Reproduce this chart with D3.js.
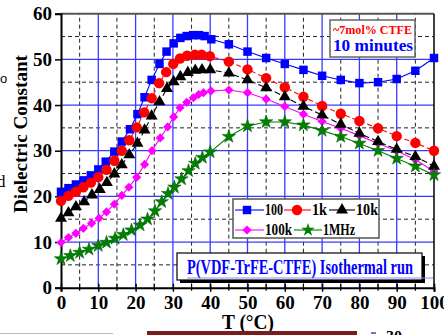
<!DOCTYPE html>
<html><head><meta charset="utf-8">
<script src="https://cdn.jsdelivr.net/npm/d3@7"></script>
<style>body{margin:0;background:#fff}svg{display:block}text{font-family:"Liberation Serif","Times New Roman",serif;font-weight:bold}</style>
</head><body>
<svg id="c" width="444" height="335"></svg>
<script>
const xTicks = [0,10,20,30,40,50,60,70,80,90,100];
const yTicks = [0,10,20,30,40,50,60];
const xMinor = [5,15,25,35,45,55,65,75,85,95];
const yMinor = [5,15,25,35,45,55];

// 100 Hz
const t100 = [0,2,4,6,8,10,12,14.3,16.3,18.5,20.5,22.4,24.3,26.4,28.3,30.2,32,33.7,35.4,37,38.5,40.3,45,50,55,60,65,70,75,80,85,90,95,100];
const v100 = [21.0,21.8,22.6,23.5,24.6,25.9,27.6,29.8,32.0,34.7,38.0,41.7,45.5,49.0,51.7,53.5,54.7,55.1,55.3,55.3,55.1,54.4,53.3,51.7,50.3,49.0,47.7,46.4,45.5,44.8,45.0,45.7,47.5,50.3];
// 1 kHz
const t1k = [0,2,4,6,8,10,12.2,14.3,16.3,18.3,20.3,22.3,24.3,26.3,28.2,30.1,31.9,33.8,35.9,37.7,39.9,45,50,55,60,65,70,75,80,85,90,95,100];
const v1k = [19.0,20.1,21.0,22.0,23.0,24.2,25.8,27.8,30.0,32.3,35.1,38.4,41.5,44.8,47.2,49.0,50.2,50.8,51.0,51.0,50.7,49.5,47.8,45.9,43.9,41.8,39.8,38.1,36.5,34.9,33.2,31.7,30.0];
// 10 kHz
const t10k = [0,2,4,6.2,8.3,10.4,12.3,14.3,16.3,18.3,20.5,22.4,24.3,26.4,28.4,30.2,32,34,36,37.8,40,45,50,55,60,65,70,75,80,85,90,95,100];
const v10k = [15.2,16.4,17.7,18.8,20.3,21.5,23.0,24.9,26.9,29.1,31.6,34.5,37.6,40.7,43.6,45.1,46.2,47.1,47.6,47.7,47.7,47.0,45.5,43.8,41.8,39.7,37.8,35.8,33.8,32.0,30.3,28.7,26.6];
// 100 kHz
const t100k = [0,2,4,6,8.2,10.2,12.2,14.3,16.3,18.2,20.3,22.4,24.4,26.6,28.6,30.2,31.9,33.7,35.5,36.9,38.2,40.2,45,50,55,60,65,70,75,80,85,90,95,100];
const v100k = [9.9,11.0,11.9,13.0,14.1,15.2,16.6,18.3,20.2,22.0,24.2,27.0,30.0,32.8,35.2,37.4,39.4,40.6,41.6,42.3,42.7,43.1,43.3,42.7,41.3,39.7,38.0,36.4,34.9,33.3,31.6,30.0,28.0,25.5];
// 1 MHz
const t1M = [0,2.5,5,7.5,10,12.2,14.5,16.7,18.9,21.2,23.2,25.2,27,28.7,30.4,32.3,34.2,36,37.9,40,45,50,55,60,65,70,75,80,85,90,95,100];
const v1M = [6.3,7.0,7.7,8.4,9.2,9.9,10.8,11.6,12.6,13.7,15.0,16.8,18.8,20.6,22.0,23.8,25.6,27.2,28.5,29.7,33.1,35.4,36.3,36.3,35.6,34.4,33.1,31.6,30.0,28.3,26.6,24.7];

const seriesNames = ["100","1k","10k","100k","1MHz"];

const svg = d3.select("#c");
svg.append("rect").attr("width",444).attr("height",335).attr("fill","#fff");

const x = d3.scaleLinear().domain([0,100]).range([61,434]);
const y = d3.scaleLinear().domain([0,60]).range([287.7,13.7]);

// grid
const g = svg.append("g");
g.selectAll(".gmx").data(yMinor).enter().append("line")
  .attr("x1",x(0)).attr("x2",x(100)).attr("y1",d=>y(d)).attr("y2",d=>y(d))
  .attr("stroke","#222").attr("stroke-width",1).attr("stroke-dasharray","4,3");
g.selectAll(".gmy").data(xMinor).enter().append("line")
  .attr("y1",y(0)).attr("y2",y(60)).attr("x1",d=>x(d)).attr("x2",d=>x(d))
  .attr("stroke","#222").attr("stroke-width",1).attr("stroke-dasharray","4,3");
g.selectAll(".gMy").data(yTicks.filter(d=>d>0&&d<60)).enter().append("line")
  .attr("x1",x(0)).attr("x2",x(100)).attr("y1",d=>y(d)).attr("y2",d=>y(d))
  .attr("stroke","#3a3aff").attr("stroke-width",1.3);
g.selectAll(".gMx").data(xTicks.filter(d=>d>0&&d<100)).enter().append("line")
  .attr("y1",y(0)).attr("y2",y(60)).attr("x1",d=>x(d)).attr("x2",d=>x(d))
  .attr("stroke","#3a3aff").attr("stroke-width",1.3);

// frame
svg.append("line").attr("x1",x(0)).attr("x2",x(100)).attr("y1",y(60)).attr("y2",y(60)).attr("stroke","#555").attr("stroke-width",2);
svg.append("line").attr("x1",x(100)).attr("x2",x(100)).attr("y1",y(60)).attr("y2",y(0)).attr("stroke","#000").attr("stroke-width",1.5);

// axes
const yAxis = d3.axisLeft(y).tickValues(yTicks).tickSize(6).tickPadding(3).tickFormat(d3.format("d"));
const ya = svg.append("g").attr("transform",`translate(${x(0)},0)`).call(yAxis);
ya.select(".domain").attr("stroke","#000").attr("stroke-width",2);
ya.selectAll(".tick line").attr("stroke","#000").attr("stroke-width",1.5);
ya.selectAll(".tick text").attr("font-size",19).attr("fill","#000").style("font-family","Liberation Serif").style("font-weight","bold");

const xAxis = d3.axisBottom(x).tickValues(xTicks).tickSize(4).tickPadding(4).tickFormat(d3.format("d"));
const xa = svg.append("g").attr("transform",`translate(0,${y(0)})`).call(xAxis);
xa.select(".domain").attr("stroke","#000").attr("stroke-width",2);
xa.selectAll(".tick line").attr("stroke","#000").attr("stroke-width",1.5).attr("y1",-4);
xa.selectAll(".tick text").attr("font-size",19).attr("fill","#000").style("font-family","Liberation Serif").style("font-weight","bold");
svg.append("g").selectAll("line").data(xMinor).enter().append("line")
  .attr("x1",d=>x(d)).attr("x2",d=>x(d)).attr("y1",y(0)-4).attr("y2",y(0)+3).attr("stroke","#000").attr("stroke-width",1.2);

// series
const sym = {
  square: d3.symbol().type(d3.symbolSquare).size(72),
  circle: d3.symbol().type(d3.symbolCircle).size(85),
  triangle: d3.symbol().type(d3.symbolTriangle).size(62),
  diamond: d3.symbol().type(d3.symbolSquare).size(42),
  star: d3.symbol().type(d3.symbolStar).size(55)
};
const series = [
  {t:t100, v:v100, color:"#0000ff", dash:null, shape:"square"},
  {t:t1k, v:v1k, color:"#ff0000", dash:"5,3", shape:"circle"},
  {t:t100k, v:v100k, color:"#ff00ff", dash:null, shape:"diamond"},
  {t:t10k, v:v10k, color:"#000000", dash:"6,3", shape:"triangle"},
  {t:t1M, v:v1M, color:"#008000", dash:null, shape:"star"}
];
const line = d3.line().x(d=>x(d[0])).y(d=>y(d[1]));
series.forEach(s=>{
  const pts = s.t.map((t,i)=>[t,s.v[i]]);
  const sg = svg.append("g");
  sg.append("path").attr("d",line(pts)).attr("fill","none").attr("stroke",s.color).attr("stroke-width",1.1)
    .attr("stroke-dasharray",s.dash);
  sg.selectAll("path.m").data(pts).enter().append("path").attr("class","m")
    .attr("d",sym[s.shape]())
    .attr("transform",d=>`translate(${x(d[0])},${y(d[1])})`+(s.shape==="diamond"?" rotate(45)":""))
    .attr("fill",s.color)
    .attr("stroke",s.shape==="star"?"#006400":"none").attr("stroke-width",0.6);
});

// legend
const lg = svg.append("g");
lg.append("rect").attr("x",233).attr("y",199).attr("width",146).attr("height",39).attr("fill","#fff").attr("stroke","#555").attr("stroke-width",1.5);
const legItems = [
  {name:seriesNames[0], s:series[0], lx:235, cx:247, tx:265, tw:18, ly:210},
  {name:seriesNames[1], s:series[1], lx:284, cx:297, tx:312, tw:15, ly:210},
  {name:seriesNames[2], s:series[3], lx:329, cx:342, tx:356, tw:22, ly:210},
  {name:seriesNames[3], s:series[2], lx:235, cx:247, tx:265, tw:27, ly:230},
  {name:seriesNames[4], s:series[4], lx:294, cx:308, tx:323, tw:32, ly:230}
];
legItems.forEach(it=>{
  lg.append("line").attr("x1",it.lx).attr("x2",it.tx-1).attr("y1",it.ly).attr("y2",it.ly)
    .attr("stroke",it.s.color).attr("stroke-width",1.1);
  lg.append("path").attr("d",sym[it.s.shape]())
    .attr("transform",`translate(${it.cx},${it.ly})`+(it.s.shape==="diamond"?" rotate(45)":""))
    .attr("fill",it.s.color);
  lg.append("text").attr("x",it.tx).attr("y",it.ly+5).attr("font-size",16)
    .attr("textLength",it.tw).attr("lengthAdjust","spacingAndGlyphs").attr("fill","#000").text(it.name);
});

// annotation box top right
svg.append("rect").attr("x",330).attr("y",20).attr("width",85).attr("height",37).attr("fill","#fff").attr("stroke","#666").attr("stroke-width",1.5);
svg.append("text").attr("x",333).attr("y",34).attr("font-size",13).attr("fill","#ff0000")
  .attr("textLength",79).attr("lengthAdjust","spacingAndGlyphs").text("~7mol% CTFE");
svg.append("text").attr("x",333).attr("y",51).attr("font-size",17).attr("fill","#0000ff")
  .attr("textLength",80).attr("lengthAdjust","spacingAndGlyphs").text("10 minutes");

// title box bottom
svg.append("rect").attr("x",180).attr("y",256).attr("width",245).attr("height",27).attr("fill","#000");
svg.append("rect").attr("x",177).attr("y",253).attr("width",245).attr("height",27).attr("fill","#fff").attr("stroke","#000").attr("stroke-width",1.2);
svg.append("line").attr("x1",187).attr("x2",433).attr("y1",278).attr("y2",278).attr("stroke","#8c8cff").attr("stroke-width",1);
svg.append("text").attr("x",187).attr("y",274).attr("font-size",21).attr("fill","#0000ff")
  .attr("textLength",226).attr("lengthAdjust","spacingAndGlyphs").text("P(VDF-TrFE-CTFE) Isothermal run");

// axis titles
svg.append("text").attr("transform","translate(27,213) rotate(-90)").attr("font-size",18).attr("fill","#000")
  .attr("textLength",158).attr("lengthAdjust","spacingAndGlyphs").text("Dielectric Constant");
svg.append("text").attr("x",222).attr("y",329).attr("font-size",21).attr("fill","#000")
  .attr("textLength",52).attr("lengthAdjust","spacingAndGlyphs").text("T (°C)");

// cropped fragments from surrounding page
svg.append("text").attr("x",0).attr("y",83).attr("font-size",13).style("font-weight","normal").style("font-family","Liberation Sans").attr("fill","#000").text("o");
svg.append("text").attr("x",-3).attr("y",187).attr("font-size",17).style("font-weight","normal").attr("fill","#000").text("d");
svg.append("line").attr("x1",0).attr("x2",113).attr("y1",333.5).attr("y2",333.5).attr("stroke","#bbb").attr("stroke-width",1);
svg.append("rect").attr("x",147).attr("y",331).attr("width",210).attr("height",4).attr("fill","#7a1c1c");
svg.append("line").attr("x1",371).attr("x2",376).attr("y1",333).attr("y2",333).attr("stroke","#3050c0").attr("stroke-width",1.5);
svg.append("text").attr("x",386).attr("y",342).attr("font-size",16).attr("fill","#000").text("30");
</script>
</body></html>
